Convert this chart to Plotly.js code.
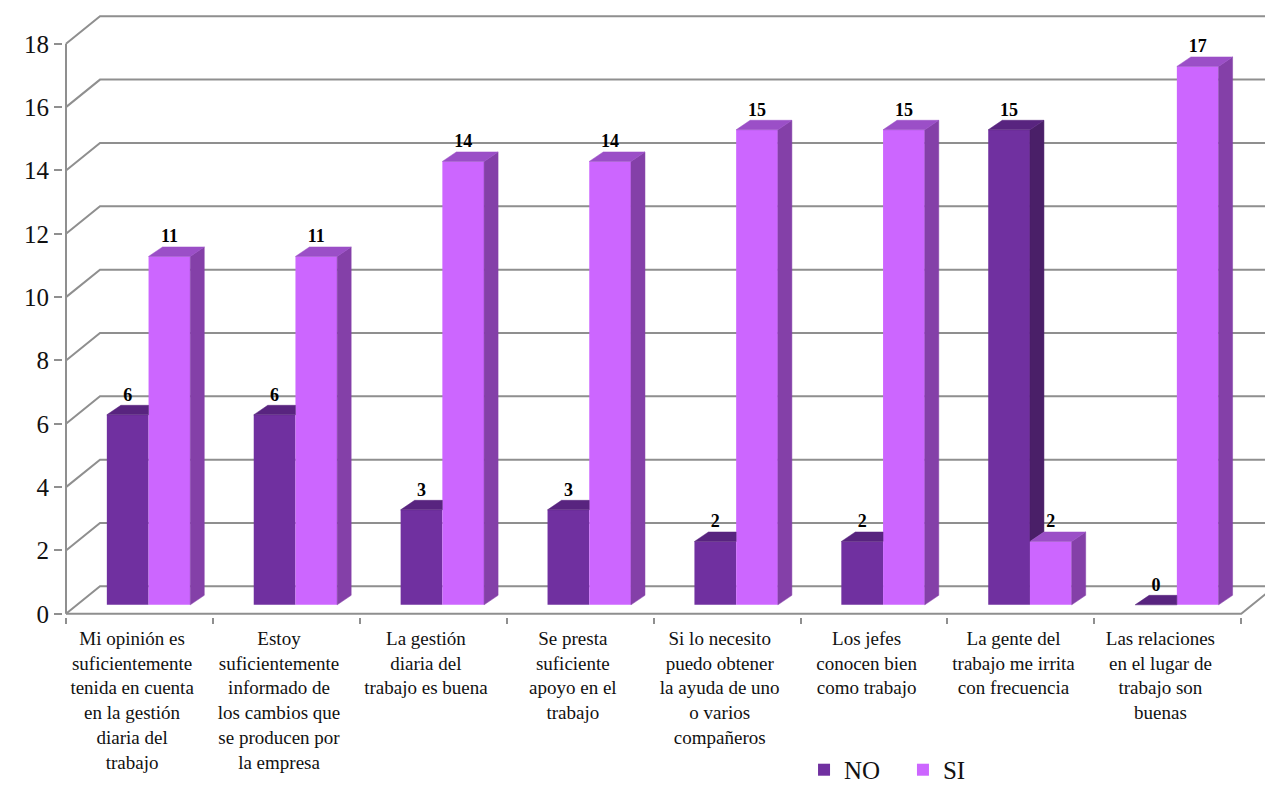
<!DOCTYPE html>
<html>
<head>
<meta charset="utf-8">
<script src="https://cdn.plot.ly/plotly-3.0.1.min.js"></script>
<style>html,body{margin:0;padding:0;background:#fff;}#chart{width:1265px;height:786px;}</style>
</head>
<body>
<div id="chart"></div>
<script>
// ---- data ----
const categories = [
  "Mi opinión es suficientemente tenida en cuenta en la gestión diaria del trabajo",
  "Estoy suficientemente informado de los cambios que se producen por la empresa",
  "La gestión diaria del trabajo es buena",
  "Se presta suficiente apoyo en el trabajo",
  "Si lo necesito puedo obtener la ayuda de uno o varios compañeros",
  "Los jefes conocen bien como trabajo",
  "La gente del trabajo me irrita con frecuencia",
  "Las relaciones en el lugar de trabajo son buenas"
];
const tickLabels = [
  "Mi opinión es<br>suficientemente<br>tenida en cuenta<br>en la gestión<br>diaria del<br>trabajo",
  "Estoy<br>suficientemente<br>informado de<br>los cambios que<br>se producen por<br>la empresa",
  "La gestión<br>diaria del<br>trabajo es buena",
  "Se presta<br>suficiente<br>apoyo en el<br>trabajo",
  "Si lo necesito<br>puedo obtener<br>la ayuda de uno<br>o varios<br>compañeros",
  "Los jefes<br>conocen bien<br>como trabajo",
  "La gente del<br>trabajo me irrita<br>con frecuencia",
  "Las relaciones<br>en el lugar de<br>trabajo son<br>buenas"
];
const seriesNames = ["NO", "SI"];
const valuesNO = [6, 6, 3, 3, 2, 2, 15, 0];
const valuesSI = [11, 11, 14, 14, 15, 15, 2, 17];
const yTicks = [0, 2, 4, 6, 8, 10, 12, 14, 16, 18];

// ---- geometry / style ----
const XU = 146.9, YU = 31.67;           // px per unit
const DX = 34 / XU, DY = 27.5 / YU;     // wall depth
const BASE = 9 / YU;                    // bars sit a little into the floor depth
const W = 0.284;                        // bar width
const OFF = { NO: -0.222, SI: 0.062 };
const DXB = 14 / XU, DYB = 9.5 / YU;    // bar depth
const COL = {
  NO: { front: "#7030A0", side: "#4A1F68", top: "#58247F" },
  SI: { front: "#CC66FF", side: "#8440A8", top: "#9B4FC7" }
};
const GRID = "#8f8f8f";
const SERIF = "'Liberation Serif', 'Times New Roman', serif";
const idx = categories.map((_, i) => i);
const xMin = -0.5 - 3 / XU, xMax = -0.5 + 1199 / XU;
const plotH = 786 - 10 - 169;
const yMin = -0.1, yMax = yMin + plotH / YU;

function faces(vals, other, key) {
  const sx = [], sy = [], tx = [], ty = [];
  vals.forEach((v, i) => {
    const xl = i + OFF[key], xr = xl + W, t = BASE + v;
    let lower = BASE;
    if (key === "NO") lower = BASE + Math.min(other[i], v);
    if (t > lower) {
      sx.push(xr, xr + DXB, xr + DXB, xr, xr, null);
      sy.push(lower, lower + DYB, t + DYB, t, lower, null);
    }
    let right = xr + DXB;
    if (key === "NO" && other[i] > v) right = xr;
    tx.push(xl, xl + DXB, right, xr, xl, null);
    ty.push(t, t + DYB, t + DYB, t, t, null);
  });
  return [
    { type: "scatter", x: sx, y: sy, mode: "lines", fill: "toself", fillcolor: COL[key].side,
      line: { width: 0.5, color: COL[key].side }, hoverinfo: "skip", showlegend: false },
    { type: "scatter", x: tx, y: ty, mode: "lines", fill: "toself", fillcolor: COL[key].top,
      line: { width: 0.5, color: COL[key].top }, hoverinfo: "skip", showlegend: false }
  ];
}

function bars(vals, key, name, leg) {
  return { type: "bar", name: name, legend: leg, x: idx, y: vals, base: vals.map(() => BASE),
    offset: OFF[key], width: W, marker: { color: COL[key].front, line: { width: 0 } },
    hoverinfo: "skip" };
}

function labels(vals, key) {
  return { type: "scatter", mode: "text", x: idx.map(i => i + OFF[key] + W / 2),
    y: vals.map(v => BASE + v + DYB), text: vals.map(String), textposition: "top center",
    textfont: { family: SERIF, size: 18, color: "#000", weight: "bold" },
    cliponaxis: false, hoverinfo: "skip", showlegend: false };
}

const data = [
  bars(valuesNO, "NO", seriesNames[0], "legend"),
  bars(valuesSI, "SI", seriesNames[1], "legend2"),
  ...faces(valuesNO, valuesSI, "NO"),
  ...faces(valuesSI, valuesNO, "SI"),
  labels(valuesNO, "NO"),
  labels(valuesSI, "SI")
];

const shapes = [];
yTicks.forEach(v => {
  shapes.push({ type: "path", xref: "x", yref: "y", layer: "below",
    path: `M ${-0.5} ${v} L ${-0.5 + DX} ${v + DY} L ${xMax + 1} ${v + DY}`,
    line: { color: GRID, width: 2 } });
});
shapes.push({ type: "line", xref: "x", yref: "y", layer: "below", x0: -0.5, x1: -0.5, y0: 0, y1: 18,
  line: { color: GRID, width: 2 } });
shapes.push({ type: "path", xref: "x", yref: "y", layer: "below",
  path: `M ${-0.5} 0 L ${categories.length - 0.5} 0 L ${categories.length - 0.5 + DX} ${DY}`,
  line: { color: GRID, width: 2 } });

const legBase = { orientation: "h", xanchor: "left", yanchor: "middle", itemwidth: 30,
  bgcolor: "rgba(0,0,0,0)", y: -0.252, font: { family: SERIF, size: 25, color: "#111" } };

const layout = {
  width: 1265, height: 786,
  margin: { l: 63, r: 0, t: 10, b: 169, autoexpand: false },
  paper_bgcolor: "#fff", plot_bgcolor: "#fff",
  showlegend: true,
  barmode: "overlay",
  xaxis: {
    type: "linear", range: [xMin, xMax], showgrid: false, zeroline: false, showline: false,
    automargin: false,
    tickmode: "array", tickvals: idx.map(i => i - 0.05), ticktext: tickLabels, ticks: "",
    ticklabelstandoff: 8,
    tickfont: { family: SERIF, size: 19, color: "#111" },
    minor: { tickmode: "array", tickvals: idx.concat([categories.length]).map(i => i - 0.5),
      ticks: "outside", ticklen: 6, tickwidth: 2, tickcolor: GRID, showgrid: false }
  },
  yaxis: {
    range: [yMin, yMax], showgrid: false, zeroline: false, showline: false, automargin: false,
    tickmode: "array", tickvals: yTicks, ticks: "outside", ticklen: 8, tickwidth: 2, tickcolor: GRID,
    tickfont: { family: SERIF, size: 25, color: "#111" }
  },
  legend: Object.assign({}, legBase, { x: 0.6165 }),
  legend2: Object.assign({}, legBase, { x: 0.6988 }),
  shapes: shapes
};

Plotly.newPlot("chart", data, layout, { displayModeBar: false, staticPlot: true });
</script>
</body>
</html>
